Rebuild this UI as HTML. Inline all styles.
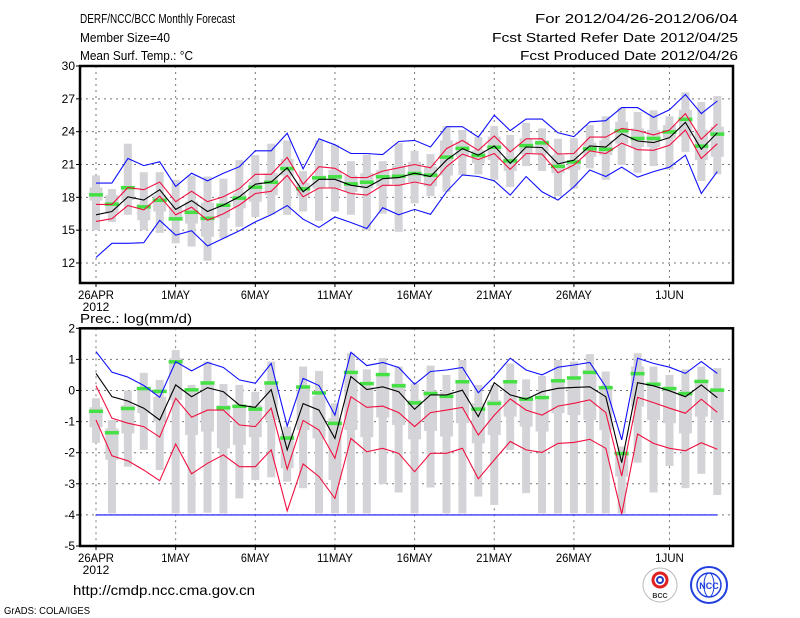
<!DOCTYPE html>
<html><head><meta charset="utf-8"><title>DERF/NCC/BCC Monthly Forecast</title>
<style>
html,body{margin:0;padding:0;background:#fff;}
svg{display:block;font-family:"Liberation Sans",sans-serif;}
</style></head>
<body>
<svg id="chart" width="800" height="618" viewBox="0 0 800 618" xmlns="http://www.w3.org/2000/svg">
<rect x="0" y="0" width="800" height="618" fill="#fff"/>
<g font-size="13" fill="#000">
<text x="80" y="23" textLength="155" lengthAdjust="spacingAndGlyphs">DERF/NCC/BCC Monthly Forecast</text>
<text x="80" y="42" textLength="90" lengthAdjust="spacingAndGlyphs">Member Size=40</text>
<text x="80" y="60" textLength="113" lengthAdjust="spacingAndGlyphs">Mean Surf. Temp.: °C</text>
<text x="535" y="23" textLength="203" lengthAdjust="spacingAndGlyphs">For 2012/04/26-2012/06/04</text>
<text x="492" y="42" textLength="246" lengthAdjust="spacingAndGlyphs">Fcst Started Refer Date 2012/04/25</text>
<text x="520" y="60" textLength="218" lengthAdjust="spacingAndGlyphs">Fcst Produced Date 2012/04/26</text>
<text x="80" y="323" textLength="112" lengthAdjust="spacingAndGlyphs">Prec.: log(mm/d)</text>
</g>
<g id="top"></g>
<g id="bot"></g>
<text x="73" y="595" font-size="14" textLength="182" lengthAdjust="spacingAndGlyphs">http://cmdp.ncc.cma.gov.cn</text>
<text x="4" y="614" font-size="10" textLength="86" lengthAdjust="spacingAndGlyphs">GrADS: COLA/IGES</text>
<g>
<circle cx="660" cy="585" r="17" fill="#fff" stroke="#bbb" stroke-width="1"/>
<circle cx="660" cy="580" r="7" fill="none" stroke="#e02020" stroke-width="3"/>
<circle cx="660" cy="580" r="3" fill="none" stroke="#2040c0" stroke-width="2"/>
<text x="660" y="598" font-size="7" text-anchor="middle" font-weight="bold" fill="#333">BCC</text>
</g>
<g>
<circle cx="709" cy="585" r="18" fill="#fff" stroke="#2040e0" stroke-width="2"/>
<circle cx="709" cy="585" r="12" fill="none" stroke="#2040e0" stroke-width="1.5"/>
<ellipse cx="709" cy="585" rx="5" ry="12" fill="none" stroke="#2040e0" stroke-width="1"/>
<text x="709" y="589" font-size="9" text-anchor="middle" font-weight="bold" fill="#2040e0">NCC</text>
</g>
</svg>
<script>
// ---- x axis ----
const nDays = 40;
const dateLabels = ["26APR","1MAY","6MAY","11MAY","16MAY","21MAY","26MAY","1JUN"];
const dateLabelDays = [0,5,10,15,20,25,30,36];
// ---- temperature panel ----
const tTicks = [12,15,18,21,24,27,30];
const tBlueHi = [19.3,19.3,21.55,20.9,21.25,19.0,20.2,19.5,20.2,20.8,22.25,22.25,23.85,20.6,23.35,22.8,22.0,22.0,21.9,23.1,23.2,22.6,24.45,24.45,23.5,25.5,24.1,25.15,25.15,23.9,23.55,24.9,25.0,26.2,26.2,25.3,26.0,27.4,25.65,26.8];
const tBlueLo = [12.5,13.8,13.8,13.85,15.9,14.55,14.95,13.55,14.25,14.95,15.75,16.4,17.25,16.0,15.25,16.2,15.7,15.15,17.05,16.4,16.9,16.45,18.5,20.05,19.9,19.5,18.2,19.9,18.5,17.75,18.95,20.5,19.9,20.75,19.85,20.35,20.75,21.85,18.35,20.35];
const tMean = [16.4,16.7,18.05,17.75,18.7,16.9,17.7,16.7,17.3,18.05,19.2,19.4,20.7,18.5,19.65,19.65,19.1,18.9,19.7,19.8,20.2,19.9,21.4,22.45,21.85,22.7,21.1,22.6,22.55,21.05,21.4,22.7,22.6,23.8,23.15,23.0,23.45,24.85,22.4,23.9];
const tRedHi = [17.35,17.35,18.9,18.7,19.4,17.6,18.55,17.6,18.05,18.8,20.1,20.1,21.65,19.2,20.8,20.65,19.8,19.8,20.4,20.7,21.0,20.7,22.45,23.2,22.3,23.6,22.15,23.35,23.35,21.95,22.0,23.5,23.5,24.3,24.1,23.7,24.15,25.65,23.3,24.7];
const tRedLo = [15.8,16.05,17.25,16.85,18.1,16.4,17.1,15.9,16.5,17.3,18.35,18.55,20.0,18.05,18.85,18.85,18.35,18.2,19.1,19.1,19.4,19.1,20.8,21.95,21.45,22.0,20.55,22.0,21.95,20.25,20.95,22.25,22.0,22.95,22.35,22.3,22.75,24.15,21.55,22.9];
const tObs = [18.25,17.4,18.9,17.15,17.75,16.05,16.65,16.1,17.3,17.95,18.95,19.4,20.65,18.8,19.8,19.9,19.25,19.4,19.9,19.95,20.2,20.05,21.7,22.5,21.85,22.6,21.35,22.75,23.0,20.85,21.25,22.45,22.4,24.1,23.4,23.4,24.0,25.15,22.7,23.8];
const tMax = [20.0,18.75,22.9,20.3,20.3,19.6,20.0,19.9,19.7,21.4,21.85,22.9,23.2,20.4,23.2,22.8,21.3,21.9,21.3,22.95,22.25,21.95,24.5,24.15,23.5,24.5,23.7,24.8,24.3,23.35,23.4,24.6,25.4,26.2,25.8,25.95,25.4,27.6,26.7,27.25];
const tMin = [15.0,15.75,16.4,15.0,14.75,13.8,13.5,12.2,14.25,15.3,16.2,16.4,16.4,16.7,15.85,16.7,16.4,15.0,16.5,14.85,17.45,18.1,18.5,20.05,20.1,19.6,18.95,20.85,20.4,18.1,18.8,20.65,19.6,20.95,20.25,20.85,20.55,22.15,19.5,20.1];
const tQ3 = [18.9,18.2,19.0,17.4,18.2,17.1,17.6,17.5,17.4,18.35,19.4,20.2,21.5,19.3,20.0,20.5,20.0,20.2,20.5,20.9,21.25,20.8,23.2,23.1,22.3,23.55,21.7,23.4,23.2,21.85,21.4,23.0,23.2,24.9,24.3,24.15,24.6,26.0,24.15,24.45];
const tQ1 = [17.7,16.5,17.75,15.9,16.7,16.0,15.6,14.4,16.1,17.0,17.6,18.2,20.0,18.1,18.8,18.8,18.5,18.8,19.0,19.2,19.4,19.0,20.0,21.7,21.1,21.4,20.4,21.95,22.05,20.2,20.5,21.7,21.85,22.9,22.6,22.6,23.4,23.55,21.4,21.7];
// ---- precipitation panel ----
const pTicks = [-5,-4,-3,-2,-1,0,1,2];
const pBlueHi = [1.25,0.59,0.43,0.16,-0.22,0.93,0.63,0.9,0.74,0.34,0.23,0.87,-1.14,0.39,0.16,-0.79,1.23,0.8,0.9,0.74,0.2,0.61,0.66,0.74,-0.07,0.45,1.04,0.66,0.5,0.75,0.82,0.9,0.12,-1.59,1.04,0.87,0.75,0.55,0.93,0.55];
const pBlueLo = [-4,-4,-4,-4,-4,-4,-4,-4,-4,-4,-4,-4,-4,-4,-4,-4,-4,-4,-4,-4,-4,-4,-4,-4,-4,-4,-4,-4,-4,-4,-4,-4,-4,-4,-4,-4,-4,-4,-4,-4];
const pMean = [0.55,-0.2,-0.34,-0.57,-0.95,0.18,-0.2,0.09,-0.04,-0.47,-0.54,0.03,-1.91,-0.42,-0.63,-1.54,0.45,0.03,0.12,-0.04,-0.6,-0.14,-0.14,0.01,-0.84,0.25,-0.14,-0.28,-0.04,0.07,0.1,0.12,-0.2,-2.32,0.25,0.15,-0.01,-0.2,0.18,-0.23];
const pRedHi = [0.15,-0.89,-1.05,-1.16,-1.5,-0.25,-0.86,-0.63,-0.63,-1.11,-1.16,-0.57,-2.53,-0.96,-1.27,-2.18,-0.2,-0.54,-0.5,-0.71,-1.16,-0.71,-0.63,-0.54,-1.43,-0.79,-0.27,-0.63,-0.79,-0.5,-0.41,-0.3,-0.71,-2.75,-0.22,-0.39,-0.57,-0.73,-0.28,-0.7];
const pRedLo = [-0.95,-2.1,-2.26,-2.56,-2.9,-1.72,-2.68,-2.34,-2.07,-2.45,-2.45,-1.91,-3.87,-2.36,-2.77,-3.47,-1.54,-1.97,-1.86,-2.02,-2.61,-2.02,-2.02,-1.86,-2.84,-2.23,-1.64,-1.91,-1.99,-1.7,-1.67,-1.57,-1.86,-3.97,-1.4,-1.7,-1.86,-1.94,-1.68,-1.89];
const pObs = [-0.66,-1.35,-0.57,0.07,-0.02,0.93,0.03,0.25,-0.55,-0.5,-0.59,0.25,-1.52,0.12,-0.07,-1.05,0.59,0.23,0.52,0.16,-0.39,-0.09,-0.18,0.29,-0.59,-0.41,0.29,-0.27,-0.22,0.32,0.41,0.59,0.1,-2.02,0.55,0.21,0.07,-0.09,0.3,0.02];
const pMax = [-0.25,-0.95,0.0,0.57,0.34,1.3,0.18,0.93,0.21,0.18,-0.04,0.93,-1.16,0.77,0.63,-0.41,1.2,0.68,1.04,0.77,0.23,0.8,0.5,0.98,0.18,0.18,0.87,0.36,0.47,0.98,0.93,1.17,0.61,-1.8,1.2,0.77,0.5,0.68,0.77,0.72];
const pMin = [-1.68,-3.95,-2.45,-1.91,-2.56,-3.95,-3.95,-3.93,-3.95,-3.47,-2.88,-2.79,-2.93,-3.14,-3.95,-3.95,-3.95,-3.95,-3.01,-3.28,-3.95,-3.12,-3.95,-3.95,-3.41,-3.68,-1.91,-3.3,-3.95,-3.95,-3.95,-3.95,-3.95,-3.95,-2.32,-3.28,-2.43,-3.14,-2.68,-3.36];
const pQ3 = [-0.54,-1.22,-0.47,0.07,-0.2,1.04,-0.04,0.29,-0.47,-0.47,-0.47,0.23,-1.38,0.12,-0.18,-0.89,0.55,0.12,0.5,0.23,-0.3,0.0,-0.04,0.23,-0.41,-0.3,0.34,-0.2,-0.3,0.34,0.34,0.66,0.12,-1.97,0.77,0.18,0.07,-0.04,0.29,0.07];
const pQ1 = [-1.18,-2.23,-1.38,-0.73,-1.0,-0.3,-1.43,-1.32,-1.86,-1.75,-1.5,-0.95,-2.5,-1.27,-1.54,-2.88,-1.27,-1.5,-0.87,-1.11,-1.57,-1.3,-1.48,-1.05,-1.7,-1.43,-0.84,-1.16,-1.32,-0.73,-0.79,-0.95,-1.27,-2.77,-0.52,-0.95,-1.05,-1.38,-0.84,-0.95];

const NS = "http://www.w3.org/2000/svg";
const X0 = 80, X1 = 733;
function xDay(d){ return 96 + d * 15.93; }

function mk(parent, tag, attrs){
  const el = document.createElementNS(NS, tag);
  for (const k in attrs) el.setAttribute(k, attrs[k]);
  parent.appendChild(el);
  return el;
}

function drawPanel(g, top, bottom, vMax, vMin, ticks, gridTicks, series, prefix){
  const yS = v => top + (vMax - v) / (vMax - vMin) * (bottom - top);
  // grid
  gridTicks.forEach(t => {
    const l = mk(g, "line", {x1:X0, x2:X1, y1:yS(t), y2:yS(t), stroke:"#777", "stroke-width":1, "stroke-dasharray":"2,4"});
    
    
  });
  dateLabelDays.forEach(d => {
    const l = mk(g, "line", {x1:xDay(d), x2:xDay(d), y1:top, y2:bottom, stroke:"#777", "stroke-width":1, "stroke-dasharray":"2,4"});
    
    
  });
  // y ticks + labels
  ticks.forEach(t => {
    const tk = mk(g, "line", {x1:X0-4, x2:X0, y1:yS(t), y2:yS(t), stroke:"#000", "stroke-width":1});
    
    
    const tx = mk(g, "text", {x:X0-5, y:yS(t)+4, "font-size":12, "text-anchor":"end"});
    tx.textContent = String(t);
    
    
  });
  // x ticks + labels
  dateLabelDays.forEach((d, i) => {
    const tk = mk(g, "line", {x1:xDay(d), x2:xDay(d), y1:bottom, y2:bottom+4, stroke:"#000", "stroke-width":1});
    
    
    const tx = mk(g, "text", {x:xDay(d), y:bottom+16, "font-size":12, "text-anchor":"middle", textLength: dateLabels[i].length*7.2, lengthAdjust:"spacingAndGlyphs"});
    tx.textContent = dateLabels[i];
    
    
  });
  const yr = mk(g, "text", {x:xDay(0), y:bottom+28, "font-size":12, "text-anchor":"middle"});
  yr.textContent = "2012";
  
  
  // bars
  for (let d = 0; d < nDays; d++){
    const x = xDay(d);
    const w = mk(g, "rect", {x:x-4, y:yS(series.max[d]), width:8, height:Math.max(0, yS(series.min[d]) - yS(series.max[d])), fill:"#d4d4d8"});
    
    
    const b = mk(g, "rect", {x:x-6.5, y:yS(series.q3[d]), width:13, height:Math.max(0, yS(series.q1[d]) - yS(series.q3[d])), fill:"#d4d4d8"});
    
    
  }
  for (let d = 0; d < nDays; d++){
    const o = mk(g, "rect", {x:xDay(d)-7, y:yS(series.obs[d])-1.5, width:14, height:3.5, fill:"#44e044"});
    
    
  }
  const line = (arr, color, name) => {
    const pts = arr.map((v, d) => xDay(d).toFixed(1) + "," + yS(v).toFixed(1)).join(" ");
    const pl = mk(g, "polyline", {points:pts, fill:"none", stroke:color, "stroke-width":1.1});
    
    
  };
  line(series.blueLo, "#1010ff", "lower-bound-line");
  line(series.blueHi, "#1010ff", "upper-bound-line");
  line(series.redLo, "#f01040", "lower-spread-line");
  line(series.redHi, "#f01040", "upper-spread-line");
  line(series.mean, "#000", "ensemble-mean-line");
  // frame
  const fr = mk(g, "rect", {x:X0, y:top, width:X1-X0, height:bottom-top, fill:"none", stroke:"#000", "stroke-width":2.5});
  
  
}

drawPanel(document.getElementById("top"), 66, 283, 30, 10.17, tTicks, [12,15,18,21,24,27], {
  max:tMax, min:tMin, q3:tQ3, q1:tQ1, obs:tObs, blueHi:tBlueHi, blueLo:tBlueLo, redHi:tRedHi, redLo:tRedLo, mean:tMean
}, "temp");
drawPanel(document.getElementById("bot"), 328.3, 546, 2, -5, pTicks, [-4,-3,-2,-1,0,1], {
  max:pMax, min:pMin, q3:pQ3, q1:pQ1, obs:pObs, blueHi:pBlueHi, blueLo:pBlueLo, redHi:pRedHi, redLo:pRedLo, mean:pMean
}, "prec");
</script>
</body></html>
